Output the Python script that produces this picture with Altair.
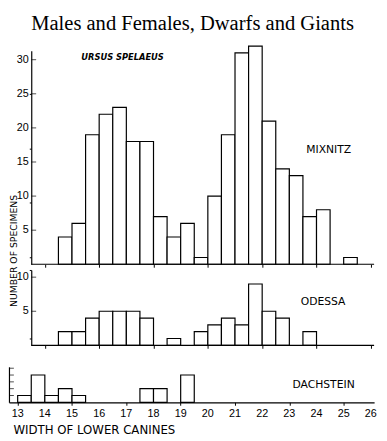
import altair as alt
import pandas as pd

# ---- data (histogram, bins of 0.5 mm) ----
bin_start = [13.0, 13.5, 14.0, 14.5, 15.0, 15.5, 16.0, 16.5, 17.0, 17.5, 18.0, 18.5, 19.0,
             19.5, 20.0, 20.5, 21.0, 21.5, 22.0, 22.5, 23.0, 23.5, 24.0, 24.5, 25.0, 25.5]
mixnitz = [0, 0, 0, 4, 6, 19, 22, 23, 18, 18, 7, 4, 6, 1, 10, 19, 31, 32, 21, 14, 13, 7, 8, 0, 1, 0]
odessa = [0, 0, 0, 2, 2, 4, 5, 5, 5, 4, 0, 1, 0, 2, 3, 4, 3, 9, 5, 4, 0, 2, 0, 0, 0, 0]
dachstein = [1, 4, 1, 2, 1, 0, 0, 0, 0, 2, 2, 0, 4, 0, 0, 0, 0, 0, 0, 0, 0, 0, 0, 0, 0, 0]
BIN_W = 0.5

x_labels = list(range(13, 27))
x_ticks_upper = list(range(14, 27))
mix_yticks = list(range(1, 32))
mix_major = [5, 10, 15, 20, 25, 30]
ode_yticks = list(range(1, 12))
ode_major = [5, 10]
dach_yticks = [1, 2, 3, 4, 5]

TITLE = "Males and Females, Dwarfs and Giants"
YTITLE = "NUMBER OF SPECIMENS"
XTITLE = "WIDTH OF LOWER CANINES"

# ---- layout ----
X0, X1 = 12.68, 26.12
PX = 27.77
PY = 6.97
W = round((X1 - X0) * PX, 1)
AXIS_X = 13.5
Y_OFF = -(AXIS_X - X0) * PX
MIX_TOP, ODE_TOP, DACH_TOP = 31.3, 11.05, 5.2

SANS = "DejaVu Sans"
NUM = "Liberation Sans"
STROKE = 1.2

xscale = alt.Scale(domain=[X0, X1], nice=False, zero=False)
one = pd.DataFrame({"k": [0]})


def hist(counts):
    df = pd.DataFrame({"start": bin_start, "count": counts})
    df["end"] = df["start"] + BIN_W
    df["zero"] = 0
    return df[df["count"] > 0]


def text_layer(txt, x, y, size, **kw):
    return alt.Chart(one).mark_text(text=txt, font=SANS, fontSize=size, color="black",
                                    align="center", baseline="middle", **kw).encode(
        x=alt.XDatum(x), y=alt.YDatum(y))


def base_rule():
    return alt.Chart(one).mark_rule(color="black", strokeWidth=STROKE).encode(
        x=alt.XDatum(AXIS_X), x2=alt.X2Datum(X1), y=alt.YDatum(0))


def major_ticks(vals, xpos):
    return alt.Chart(pd.DataFrame({"v": vals})).mark_tick(
        orient="horizontal", color="black", size=5, thickness=1, xOffset=2.5).encode(
        x=alt.XDatum(xpos), y=alt.Y("v:Q"))


def y_labels(vals):
    return alt.Chart(pd.DataFrame({"v": vals})).mark_text(
        font=NUM, fontSize=11, color="black", align="right", baseline="middle",
        xOffset=-2.5).encode(x=alt.XDatum(AXIS_X), y=alt.Y("v:Q"), text="v:Q")


def x_tick_labels(vals):
    return alt.Chart(pd.DataFrame({"v": vals})).mark_text(
        font=NUM, fontSize=11, color="black", align="center", baseline="middle",
        yOffset=12).encode(x=alt.X("v:Q"), y=alt.YDatum(0), text="v:Q")


def upper_x():
    return alt.X("start:Q", scale=xscale,
                 axis=alt.Axis(values=x_ticks_upper, labels=False, domain=False,
                               tickSize=3, tickWidth=1, title=None))


bar_style = dict(fill="white", stroke="black", strokeWidth=STROKE)

# ---- Mixnitz ----
mix_h = MIX_TOP * PY
mix_bars = alt.Chart(hist(mixnitz)).mark_bar(**bar_style).encode(
    x=upper_x(), x2="end:Q",
    y=alt.Y("count:Q", scale=alt.Scale(domain=[0, MIX_TOP], nice=False),
            axis=alt.Axis(values=mix_yticks, labels=False, tickSize=2, offset=Y_OFF,
                          domainWidth=STROKE,
                          title=YTITLE, titleX=-18.5, titleY=204, titleAngle=270,
                          titleAlign="center", titleBaseline="middle", titleFont=SANS,
                          titleFontSize=9.5, titleFontWeight="normal")),
    y2="zero:Q")
mix = alt.layer(
    mix_bars, base_rule(), major_ticks(mix_major, AXIS_X), y_labels(mix_major),
    text_layer("URSUS SPELAEUS", 16.86, 30.4, 8.5, fontStyle="italic", fontWeight="bold"),
    text_layer("MIXNITZ", 24.45, 16.8, 11),
).properties(width=W, height=mix_h)

# ---- Odessa ----
ode_h = ODE_TOP * PY
ode_bars = alt.Chart(hist(odessa)).mark_bar(**bar_style).encode(
    x=upper_x(), x2="end:Q",
    y=alt.Y("count:Q", scale=alt.Scale(domain=[0, ODE_TOP], nice=False),
            axis=alt.Axis(values=ode_yticks, labels=False, tickSize=2, offset=Y_OFF,
                          domainWidth=STROKE, title=None)),
    y2="zero:Q")
ode = alt.layer(
    ode_bars, base_rule(), major_ticks(ode_major, AXIS_X), y_labels(ode_major),
    text_layer("ODESSA", 24.24, 6.4, 11),
).properties(width=W, height=ode_h)

# ---- spacer (extra gap above the Dachstein panel) ----
spacer = alt.Chart(one).mark_point(opacity=0).properties(width=W, height=10.5)

# ---- Dachstein ----
dach_h = DACH_TOP * PY
dach_bars = alt.Chart(hist(dachstein)).mark_bar(**bar_style).encode(
    x=alt.X("start:Q", scale=xscale,
            axis=alt.Axis(values=x_labels, labels=False, tickSize=3, domainWidth=STROKE,
                          title=XTITLE, titleX=4, titleY=28, titleAlign="left",
                          titleAnchor="start", titleBaseline="middle", titleFont=SANS,
                          titleFontSize=12, titleFontWeight="normal")),
    x2="end:Q",
    y=alt.Y("count:Q", scale=alt.Scale(domain=[0, DACH_TOP], nice=False),
            axis=alt.Axis(labels=False, ticks=False, domainWidth=STROKE, title=None)),
    y2="zero:Q")
dach = alt.layer(
    dach_bars, major_ticks(dach_yticks, X0), x_tick_labels(x_labels),
    text_layer("DACHSTEIN", 24.26, 2.5, 11),
).properties(width=W, height=dach_h)

chart = alt.vconcat(mix, ode, spacer, dach, spacing=5, bounds="flush").properties(
    title=alt.TitleParams(TITLE, font="Liberation Serif", fontSize=21, fontWeight="normal",
                          color="black", anchor="middle", offset=12),
    padding={"left": 0, "top": 0, "right": 2, "bottom": 0},
).configure_view(stroke=None).configure_axis(
    grid=False, domainColor="black", tickColor="black", labelColor="black",
    titleColor="black")

chart.save("out.html", embed_options={"renderer": "svg", "actions": False})
